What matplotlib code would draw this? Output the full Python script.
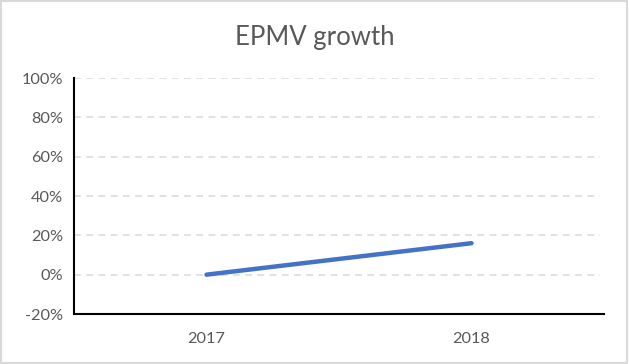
import matplotlib.pyplot as plt
from matplotlib.patches import Rectangle
from matplotlib.ticker import PercentFormatter

years = ["2017", "2018"]
growth = [0, 16]
yticks = [-20, 0, 20, 40, 60, 80, 100]

plt.rcParams['font.family'] = ['Lato', 'DejaVu Sans']
plt.rcParams['axes.unicode_minus'] = False

fig = plt.figure(figsize=(6.29, 3.64), dpi=100)
ax = fig.add_axes([74/629, 1 - 314/364, 530/629, 236/364])

x = [0, 1]
ax.plot(x, growth, color='#4472C4', linewidth=3.2, solid_capstyle='round', zorder=3)

ax.set_xlim(-0.5, 1.5)
ax.set_ylim(-20, 100)
ax.set_yticks(yticks)
ax.yaxis.set_major_formatter(PercentFormatter(decimals=0))
ax.set_xticks(x)
ax.set_xticklabels(years)

for v in yticks[1:]:
    ax.axhline(v, xmin=0, xmax=0.992, color='#d9d9d9', linewidth=1.1,
               linestyle=(0, (4.5, 3.5)), zorder=1)

for s in ['top', 'right']:
    ax.spines[s].set_visible(False)
for s in ['left', 'bottom']:
    ax.spines[s].set_color('black')
    ax.spines[s].set_linewidth(1.5)

ax.tick_params(length=0, labelsize=11.8, labelcolor='#595959')
ax.tick_params(axis='x', pad=13)
ax.tick_params(axis='y', pad=8)

fig.text(0.5, 1 - 38/364, "EPMV growth", ha='center', va='center',
         fontsize=18.5, color='#595959')

fig.patches.append(Rectangle((0.002, 0.003), 0.995, 0.993, transform=fig.transFigure,
                             fill=False, edgecolor='#d9d9d9', linewidth=1.5))

fig.savefig("out.png", dpi=100)
